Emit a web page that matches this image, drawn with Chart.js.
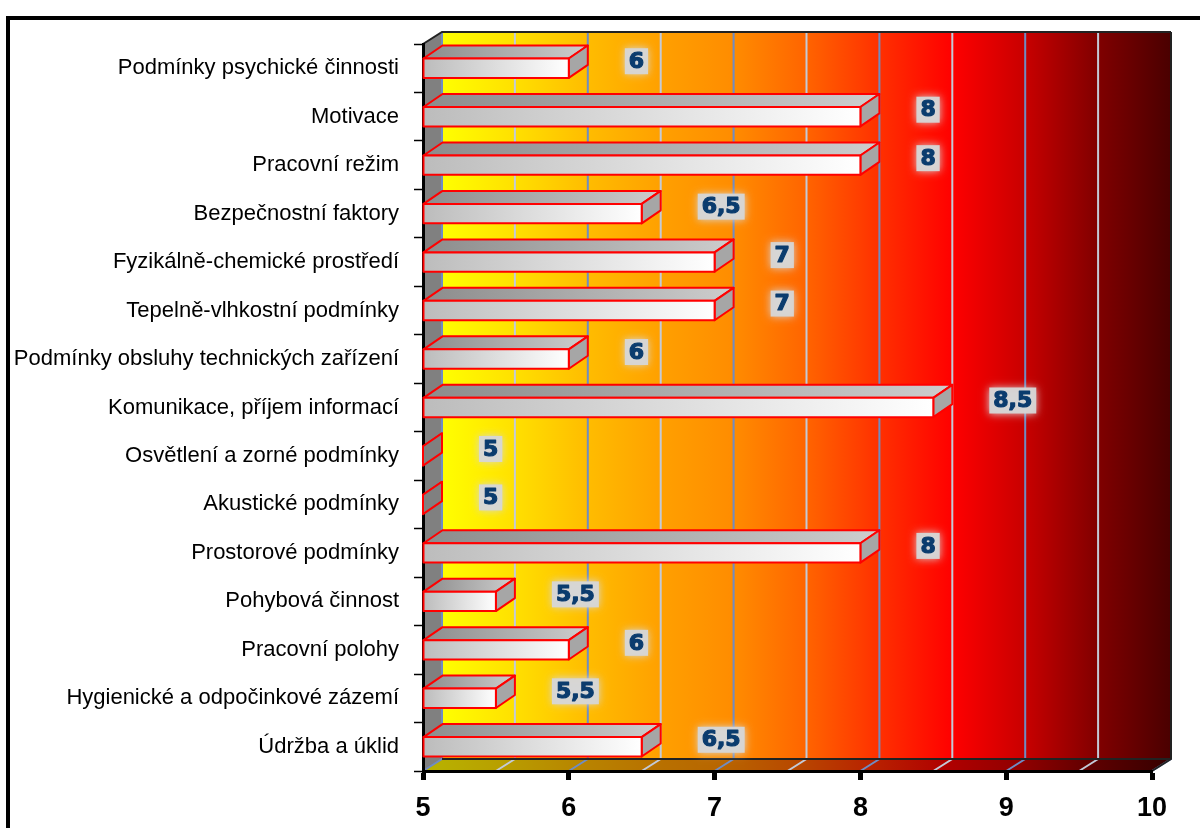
<!DOCTYPE html>
<html>
<head>
<meta charset="utf-8">
<title>Hodnocení pracovních podmínek</title>
<script src="https://cdn.jsdelivr.net/npm/chart.js@4/dist/chart.umd.min.js"></script>
<style>
  html, body { margin: 0; padding: 0; background: #fff; }
  #wrap { width: 1200px; height: 828px; }
</style>
</head>
<body>
<div id="wrap"><canvas id="chart"></canvas></div>
<script>
const categories = [
  'Podmínky psychické činnosti',
  'Motivace',
  'Pracovní režim',
  'Bezpečnostní faktory',
  'Fyzikálně-chemické prostředí',
  'Tepelně-vlhkostní podmínky',
  'Podmínky obsluhy technických zařízení',
  'Komunikace, příjem informací',
  'Osvětlení a zorné podmínky',
  'Akustické podmínky',
  'Prostorové podmínky',
  'Pohybová činnost',
  'Pracovní polohy',
  'Hygienické a odpočinkové zázemí',
  'Údržba a úklid'
];
const values = [6, 8, 8, 6.5, 7, 7, 6, 8.5, 5, 5, 8, 5.5, 6, 5.5, 6.5];
const axisMin = 5;
const axisMax = 10;
const gridValues = [5, 5.5, 6, 6.5, 7, 7.5, 8, 8.5, 9, 9.5, 10];

// depth of the 3d box
const DX = 19, DY = 12, BAR_DY = 13;

const wallStops = [
  [0, '#ffff00'], [0.1, '#ffe000'], [0.2, '#ffbc00'], [0.3, '#ffa000'],
  [0.4, '#ff8c00'], [0.5, '#ff6400'], [0.6, '#ff3000'], [0.7, '#ff0000'],
  [0.8, '#c80000'], [0.9, '#800000'], [1, '#4a0000']
];
const floorStops = [
  [0, '#b8b400'], [0.1, '#b8a000'], [0.2, '#b88700'], [0.3, '#b87300'],
  [0.4, '#b86500'], [0.5, '#b84800'], [0.6, '#b82200'], [0.7, '#b00000'],
  [0.8, '#900000'], [0.9, '#5c0000'], [1, '#350000']
];

function makeGradient(ctx, x0, x1, stops) {
  const g = ctx.createLinearGradient(x0, 0, x1, 0);
  stops.forEach(([p, c]) => g.addColorStop(p, c));
  return g;
}

function poly(ctx, pts) {
  ctx.beginPath();
  ctx.moveTo(pts[0][0], pts[0][1]);
  for (let i = 1; i < pts.length; i++) ctx.lineTo(pts[i][0], pts[i][1]);
  ctx.closePath();
}

const boxPlugin = {
  id: 'box3d',
  beforeDraw(chart) {
    const ctx = chart.ctx;
    const a = chart.chartArea;
    const xs = chart.scales.x;
    ctx.save();
    ctx.fillStyle = '#fff';
    ctx.fillRect(0, 0, chart.width, chart.height);

    // frame
    ctx.strokeStyle = '#000';
    ctx.lineWidth = 4;
    ctx.strokeRect(8, 18, chart.width + 50, chart.height + 50);

    const bl = a.left + DX, br = a.right + DX, bt = a.top - DY, bb = a.bottom - DY;

    // back wall
    ctx.fillStyle = makeGradient(ctx, bl, br, wallStops);
    ctx.fillRect(bl, bt, br - bl, bb - bt);

    // left wall
    poly(ctx, [[a.left, a.top], [bl, bt], [bl, bb], [a.left, a.bottom]]);
    ctx.fillStyle = '#808080';
    ctx.fill();

    // floor
    poly(ctx, [[a.left, a.bottom], [bl, bb], [br, bb], [a.right, a.bottom]]);
    ctx.fillStyle = makeGradient(ctx, a.left, br, floorStops);
    ctx.fill();

    // grid lines on wall and floor
    ctx.lineWidth = 2;
    gridValues.forEach(v => {
      const px = xs.getPixelForValue(v);
      ctx.strokeStyle = (v % 1 === 0) ? '#6f8cc4' : '#c3cad8';
      ctx.beginPath();
      ctx.moveTo(px + DX, bt);
      ctx.lineTo(px + DX, bb);
      ctx.lineTo(px, a.bottom);
      ctx.stroke();
    });

    // box edges
    ctx.strokeStyle = '#222';
    ctx.lineWidth = 2;
    ctx.beginPath();
    ctx.moveTo(a.left, a.top); ctx.lineTo(bl, bt); ctx.lineTo(br, bt);
    ctx.moveTo(br, bt); ctx.lineTo(br, bb); ctx.lineTo(a.right, a.bottom);
    ctx.moveTo(bl, bb); ctx.lineTo(br, bb);
    ctx.stroke();
    ctx.restore();
  },
  afterDatasetsDraw(chart) {
    const ctx = chart.ctx;
    const meta = chart.getDatasetMeta(0);
    ctx.save();
    meta.data.forEach((el, i) => {
      const { x, y, base, height } = el.getProps(['x', 'y', 'base', 'height'], true);
      const top = y - height / 2, bottom = y + height / 2;

      ctx.lineWidth = 2;
      ctx.lineJoin = 'round';
      ctx.strokeStyle = '#ff0000';

      // top face
      poly(ctx, [[base, top], [base + DX, top - BAR_DY], [x + DX, top - BAR_DY], [x, top]]);
      ctx.fillStyle = makeGradient(ctx, base, x + DX, [[0, '#8c8c8c'], [1, '#cdcdcd']]);
      ctx.fill();
      ctx.stroke();

      // end face
      poly(ctx, [[x, top], [x + DX, top - BAR_DY], [x + DX, bottom - BAR_DY], [x, bottom]]);
      ctx.fillStyle = x - base < 1 ? '#808080' : '#a6a6a6';
      ctx.fill();
      ctx.stroke();

      // front face
      if (x - base >= 1) {
        ctx.fillStyle = makeGradient(ctx, base, x, [[0, '#bcbcbc'], [1, '#ffffff']]);
        ctx.fillRect(base, top, x - base, height);
        ctx.strokeRect(base, top, x - base, height);
      }

      // value label
      const text = String(values[i]).replace('.', ',');
      ctx.font = 'bold 22px "DejaVu Sans"';
      const w = ctx.measureText(text).width;
      const lx = x + 60, ly = y - 7;
      ctx.save();
      ctx.shadowColor = 'rgba(215,215,215,1)';
      ctx.shadowBlur = 8;
      ctx.fillStyle = 'rgba(214,214,214,0.95)';
      ctx.fillRect(lx - 4, ly - 13, w + 8, 26);
      ctx.restore();
      ctx.fillStyle = '#0b3c6e';
      ctx.strokeStyle = '#0b3c6e';
      ctx.lineWidth = 1.2;
      ctx.textAlign = 'left';
      ctx.textBaseline = 'middle';
      ctx.fillText(text, lx, ly + 1);
      ctx.strokeText(text, lx, ly + 1);
    });
    ctx.restore();
  }
};

new Chart(document.getElementById('chart'), {
  type: 'bar',
  data: {
    labels: categories,
    datasets: [{
      data: values,
      base: axisMin,
      backgroundColor: 'rgba(0,0,0,0)',
      borderWidth: 0,
      barPercentage: 0.4,
      categoryPercentage: 1
    }]
  },
  options: {
    indexAxis: 'y',
    responsive: true,
    maintainAspectRatio: false,
    devicePixelRatio: 1,
    animation: false,
    events: [],
    layout: { padding: { top: 44, right: 48, left: 0, bottom: 0 } },
    plugins: { legend: { display: false }, tooltip: { enabled: false } },
    scales: {
      x: {
        min: axisMin,
        max: axisMax,
        afterFit: s => { s.height = 57; },
        ticks: {
          stepSize: 1,
          color: '#000',
          padding: 12,
          font: { family: '"Liberation Sans", Arial', size: 27, weight: 'bold' }
        },
        grid: { drawOnChartArea: false, tickLength: 9, tickWidth: 5, tickColor: '#000' },
        border: { color: '#000', width: 3 }
      },
      y: {
        afterFit: s => { s.width = 423; },
        ticks: {
          color: '#000',
          padding: 15,
          font: { family: '"Liberation Sans", Arial', size: 22 }
        },
        grid: { drawOnChartArea: false, tickLength: 9, tickWidth: 1.5, tickColor: '#000' },
        border: { color: '#000', width: 3 }
      }
    }
  },
  plugins: [boxPlugin]
});
</script>
</body>
</html>
